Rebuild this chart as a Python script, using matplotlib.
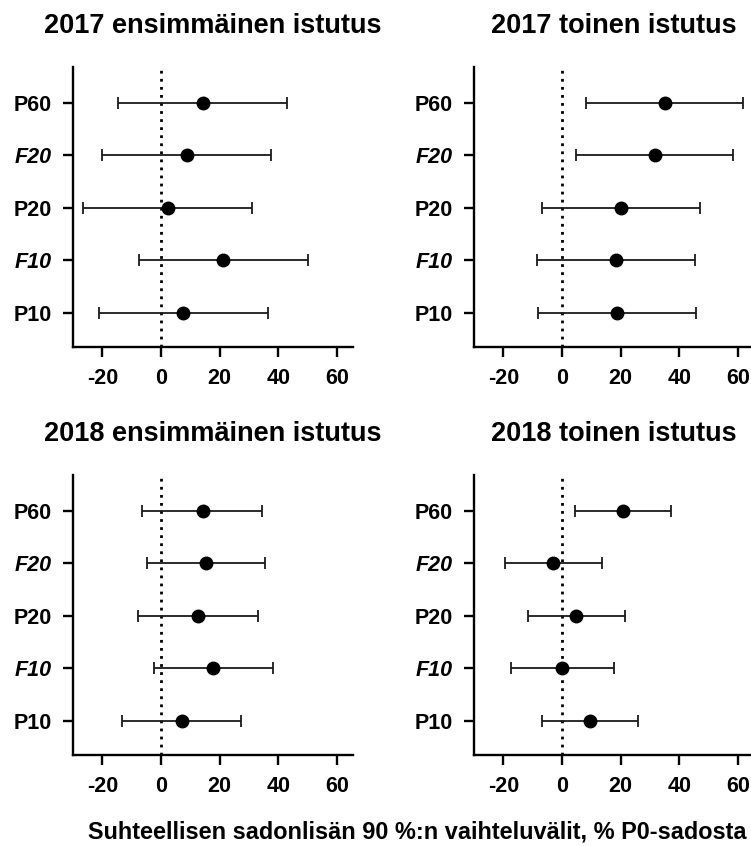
import matplotlib
matplotlib.use('Agg')
import matplotlib.pyplot as plt

plt.rcParams['font.family'] = ['Liberation Sans', 'DejaVu Sans']

# categories from bottom to top
categories = ['P10', 'F10', 'P20', 'F20', 'P60']
italic_cats = ['F10', 'F20']

titles = ['2017 ensimmäinen istutus', '2017 toinen istutus',
          '2018 ensimmäinen istutus', '2018 toinen istutus']

# point estimates and 90 % interval limits, order as categories
est_2017_1 = [7.6, 21.3, 2.3, 8.9, 14.2]
low_2017_1 = [-21.3, -7.6, -26.7, -20.1, -14.8]
high_2017_1 = [36.4, 50.0, 31.0, 37.6, 43.0]

est_2017_2 = [18.8, 18.3, 20.2, 31.7, 35.0]
low_2017_2 = [-8.2, -8.4, -6.7, 4.8, 8.1]
high_2017_2 = [45.7, 45.3, 47.0, 58.5, 61.9]

est_2018_1 = [7.2, 17.8, 12.5, 15.3, 14.2]
low_2018_1 = [-13.2, -2.3, -7.7, -4.9, -6.3]
high_2018_1 = [27.3, 38.2, 33.0, 35.6, 34.3]

est_2018_2 = [9.7, 0.1, 4.9, -3.1, 20.8]
low_2018_2 = [-6.9, -17.5, -11.5, -19.5, 4.5]
high_2018_2 = [26.1, 17.6, 21.4, 13.5, 37.3]

panels = [(est_2017_1, low_2017_1, high_2017_1),
          (est_2017_2, low_2017_2, high_2017_2),
          (est_2018_1, low_2018_1, high_2018_1),
          (est_2018_2, low_2018_2, high_2018_2)]

xticks = [-20, 0, 20, 40, 60]

fig = plt.figure(figsize=(7.51, 8.46), dpi=100)

# axes positions [left, bottom, width, height] in figure fraction
positions = [[0.0972, 0.5898, 0.3728, 0.331],
             [0.6312, 0.5898, 0.3728, 0.331],
             [0.0972, 0.1076, 0.3728, 0.331],
             [0.6312, 0.1076, 0.3728, 0.331]]

for pos, title, (est, low, high) in zip(positions, titles, panels):
    ax = fig.add_axes(pos)
    y = list(range(1, len(categories) + 1))
    err_lo = [e - l for e, l in zip(est, low)]
    err_hi = [h - e for e, h in zip(est, high)]
    ax.axvline(0, color='black', lw=2, linestyle=(0, (1, 1.9)), zorder=1)
    ax.errorbar(est, y, xerr=[err_lo, err_hi], fmt='o', color='black',
                ecolor='#1a1a1a', elinewidth=1.3, capsize=4, capthick=1.3,
                markersize=9, zorder=3)
    ax.set_xlim(-30, 65.5)
    ax.set_ylim(0.35, 5.68)
    ax.set_xticks(xticks)
    ax.set_xticklabels([str(t) for t in xticks])
    ax.set_yticks(y)
    ax.set_yticklabels(categories)
    for lab in ax.get_yticklabels():
        if lab.get_text() in italic_cats:
            lab.set_style('italic')
    for sp in ['top', 'right']:
        ax.spines[sp].set_visible(False)
    for sp in ['left', 'bottom']:
        ax.spines[sp].set_linewidth(1.7)
    ax.tick_params(axis='both', length=7, width=1.7, labelsize=15.5)
    ax.tick_params(axis='y', pad=8.5)
    ax.tick_params(axis='x', pad=8)
    for lab in ax.get_xticklabels() + ax.get_yticklabels():
        lab.set_fontweight('bold')
    ax.set_title(title, fontsize=19.5, fontweight='bold', pad=24.5)

fig.text(0.556, 0.0165, 'Suhteellisen sadonlisän 90 %:n vaihteluvälit, % P0-sadosta',
         ha='center', va='center', fontsize=16.9, fontweight='bold')

fig.savefig('out.png', dpi=100)
